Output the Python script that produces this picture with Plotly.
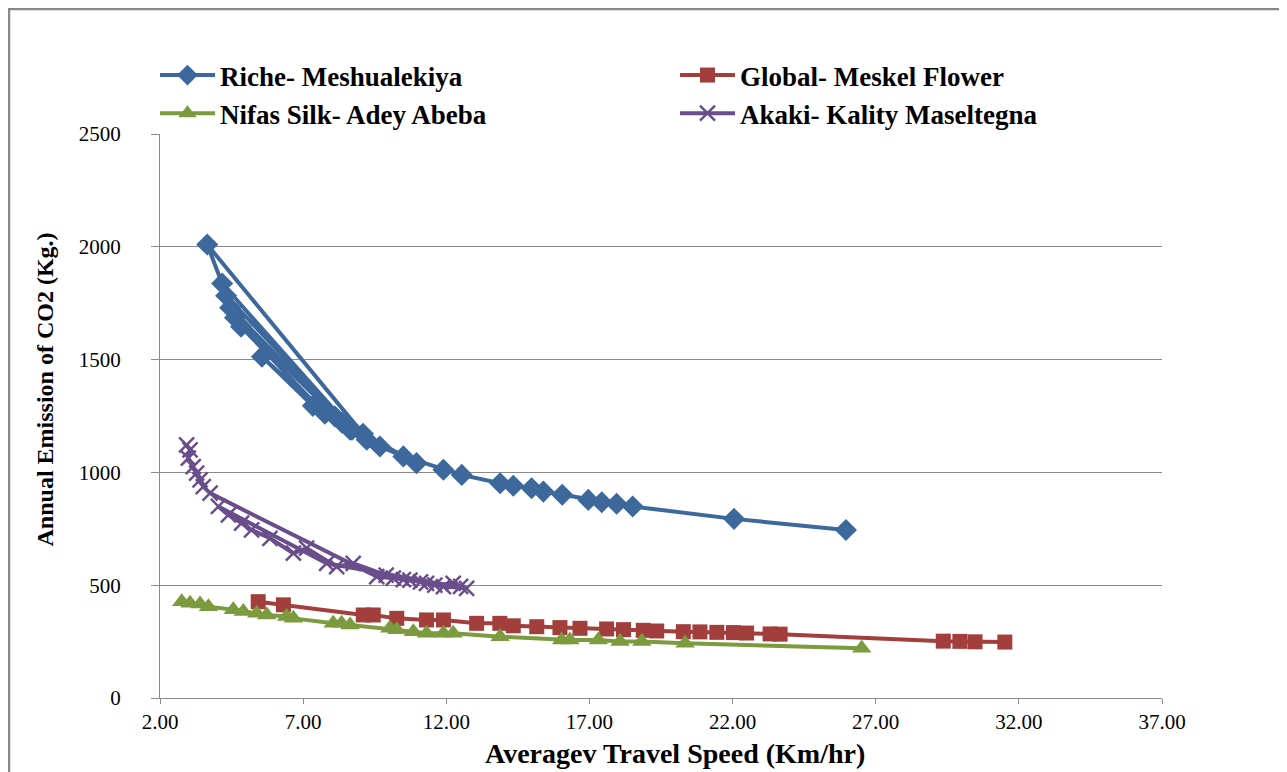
import plotly.graph_objects as go

# ---------------- data ----------------
riche_x = [10.96, 9.09, 3.65, 4.17, 8.71, 4.31, 4.45, 8.36, 4.62, 4.83, 7.76, 5.56, 7.34,
           8.11, 8.64, 9.22, 9.68, 10.50, 11.90, 12.54, 13.88, 14.34, 14.98, 15.39, 16.05,
           16.96, 17.43, 17.95, 18.51, 22.05, 25.96]
riche_y = [1041, 1171, 2010, 1837, 1189, 1783, 1730, 1220, 1686, 1646, 1260, 1513, 1295,
           1248, 1189, 1145, 1115, 1071, 1012, 989, 952, 941, 930, 915, 901,
           878, 868, 861, 849, 794, 745]

global_x = [5.43, 6.31, 9.10, 9.45, 10.27, 11.31, 11.90, 13.06, 13.87, 14.34, 15.16, 15.97,
            16.67, 17.60, 18.19, 18.88, 19.35, 20.28, 20.86, 21.45, 22.03, 22.49, 23.31,
            23.66, 29.36, 29.94, 30.47, 31.51]
global_y = [427, 413, 368, 368, 353, 346, 346, 331, 331, 320, 316, 312,
            309, 306, 303, 300, 297, 294, 293, 291, 290, 288, 284,
            283, 252, 251, 249, 248]

nifas_x = [2.76, 3.05, 3.40, 3.69, 4.56, 4.91, 5.38, 5.73, 6.42, 6.66, 8.05, 8.34, 8.64,
           10.03, 10.27, 10.85, 11.31, 11.90, 12.24, 13.88, 16.03, 16.32, 17.31, 18.07,
           18.83, 20.34, 26.51]
nifas_y = [427, 420, 417, 405, 391, 383, 376, 368, 361, 353, 331, 331, 324,
           309, 302, 294, 287, 287, 287, 272, 257, 257, 257, 250,
           250, 243, 220]

akaki_x = [2.93, 3.05, 2.99, 3.16, 3.28, 3.40, 3.51, 3.75, 9.57, 10.15, 10.73, 11.31, 11.90,
           12.71, 7.82, 4.04, 4.39, 4.85, 5.20, 5.84, 6.66, 7.12, 8.17, 8.75, 9.90, 10.50,
           11.10, 11.60, 12.24, 12.50]
akaki_y = [1122, 1100, 1063, 1026, 997, 967, 937, 908, 538, 531, 523, 508, 494,
           486, 597, 849, 812, 775, 745, 708, 642, 664, 582, 597, 545, 525,
           515, 500, 508, 495]

series_names = ["Riche- Meshualekiya", "Global- Meskel Flower",
                "Nifas Silk- Adey Abeba", "Akaki- Kality Maseltegna"]

x_ticks = [2, 7, 12, 17, 22, 27, 32, 37]
y_ticks = [0, 500, 1000, 1500, 2000, 2500]

x_title = "Averagev Travel Speed (Km/hr)"
y_title = "Annual Emission of CO2 (Kg.)"

# ---------------- styling ----------------
BLUE = "#3c689c"
RED = "#a23f3c"
GREEN = "#7b9b3e"
PURPLE = "#6a4e8c"
GRID = "#8a8a8a"
SERIF = "Liberation Serif, Times New Roman, serif"

fig = go.Figure()
fig.add_trace(go.Scatter(x=riche_x, y=riche_y, name=series_names[0], mode="lines+markers",
                         line=dict(color=BLUE, width=4),
                         marker=dict(symbol="diamond", size=17, color=BLUE)))
fig.add_trace(go.Scatter(x=global_x, y=global_y, name=series_names[1], mode="lines+markers",
                         line=dict(color=RED, width=4),
                         marker=dict(symbol="square", size=15, color=RED)))
fig.add_trace(go.Scatter(x=nifas_x, y=nifas_y, name=series_names[2], mode="lines+markers",
                         line=dict(color=GREEN, width=4),
                         marker=dict(symbol="triangle-up", size=17, color=GREEN)))
fig.add_trace(go.Scatter(x=akaki_x, y=akaki_y, name=series_names[3], mode="lines+markers",
                         line=dict(color=PURPLE, width=4),
                         marker=dict(symbol="x-thin", size=15, color=PURPLE,
                                     line=dict(color=PURPLE, width=2.5))))

# the page body adds an 8px offset; size the figure to the visible area
W, H = 1279, 764
L, R, T, B = 152, 125, 126, 74
PW, PH = W - L - R, H - T - B

fig.update_layout(
    width=W, height=H,
    margin=dict(l=L, r=R, t=T, b=B),
    paper_bgcolor="white", plot_bgcolor="white",
    font=dict(family=SERIF, color="black"),
    showlegend=True,
    legend=dict(orientation="h", x=-0.005, xanchor="left", y=(H - B - 43) / PH, yanchor="top",
                entrywidth=450, entrywidthmode="pixels", traceorder="normal",
                itemwidth=55,
                font=dict(family=SERIF, size=27, color="black", weight="bold"),
                bgcolor="rgba(0,0,0,0)", tracegroupgap=0),
    xaxis=dict(range=[2, 37], tickvals=x_ticks, tickformat=".2f",
               showgrid=False, zeroline=False,
               showline=True, linecolor=GRID, linewidth=1,
               ticks="outside", ticklen=5, tickcolor=GRID,
               tickfont=dict(family=SERIF, size=21, color="black")),
    yaxis=dict(range=[0, 2500], tickvals=y_ticks,
               showgrid=True, gridcolor=GRID, gridwidth=1, zeroline=False,
               showline=True, linecolor=GRID, linewidth=1,
               ticks="outside", ticklen=8, tickcolor=GRID,
               ticklabelstandoff=26,
               tickfont=dict(family=SERIF, size=21, color="black")),
    annotations=[
        dict(text="<b>" + x_title + "</b>", xref="paper", yref="paper",
             x=0.514, y=0, xanchor="center", yanchor="bottom", yshift=-(B - 1),
             showarrow=False, font=dict(family=SERIF, size=28, color="black")),
        dict(text="<b>" + y_title + "</b>", xref="paper", yref="paper",
             x=0, y=0.547, xanchor="center", yanchor="middle", xshift=-(L - 37),
             textangle=-90, showarrow=False,
             font=dict(family=SERIF, size=24, color="black")),
    ],
    shapes=[
        dict(type="rect", xref="paper", yref="paper",
             x0=(1 - L) / PW, x1=(W + 20 - L) / PW,
             y0=-0.2, y1=(H - B - 1) / PH,
             line=dict(color="#888888", width=2.5), fillcolor="rgba(0,0,0,0)",
             layer="below"),
    ],
)

fig.write_html("out.html")
